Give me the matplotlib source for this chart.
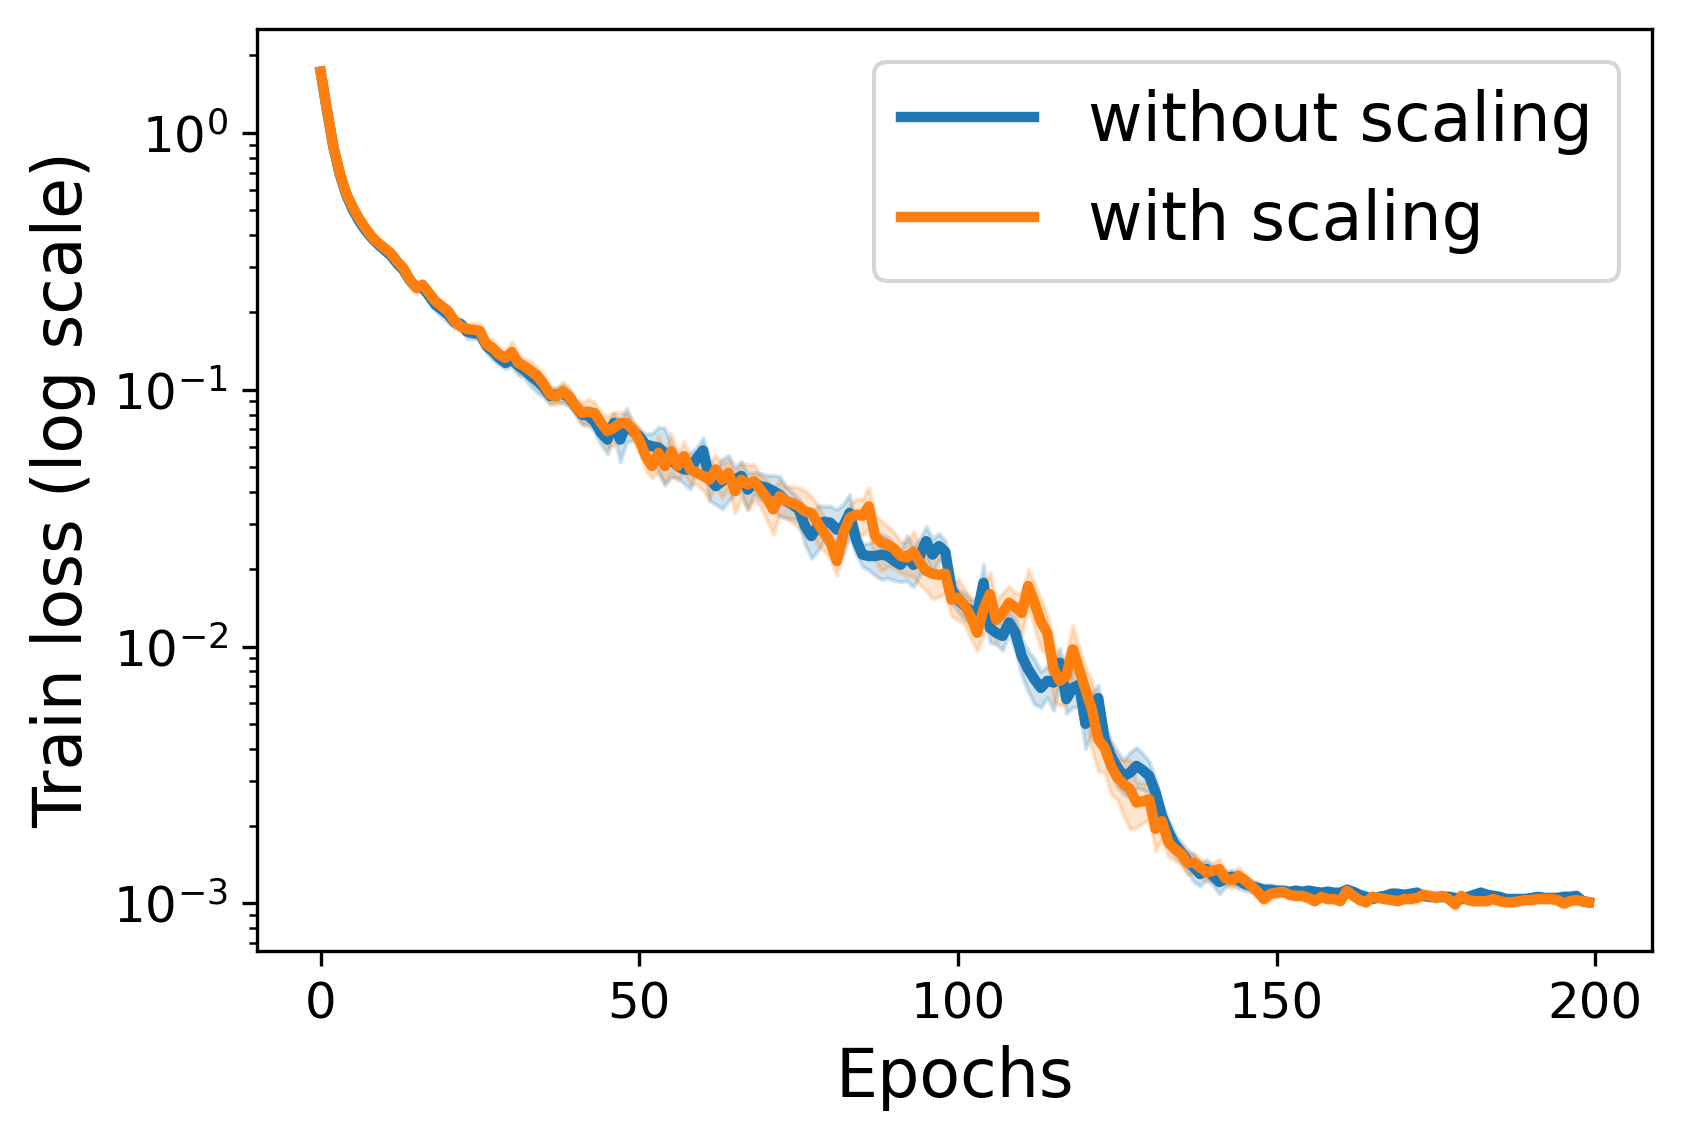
import matplotlib
matplotlib.use("Agg")
import matplotlib.pyplot as plt
from matplotlib.ticker import MultipleLocator
import numpy as np

epochs = np.arange(200)

# mean train loss
loss_without = [
    1.73, 1.22, 0.88, 0.69, 0.575, 0.505, 0.455, 0.418, 0.390, 0.368,
    0.350, 0.333, 0.310, 0.292, 0.266, 0.251, 0.250, 0.232, 0.214, 0.205,
    0.196, 0.183, 0.180, 0.168, 0.166, 0.165, 0.148, 0.141, 0.133, 0.127,
    0.131, 0.124, 0.119, 0.113, 0.108, 0.102, 0.0945, 0.0955, 0.0965, 0.093,
    0.086, 0.080, 0.079, 0.0752, 0.0678, 0.0639, 0.0742, 0.0639, 0.0735, 0.0689,
    0.0658, 0.0611, 0.0602, 0.0595, 0.0567, 0.0535, 0.0504, 0.0489, 0.0489, 0.054,
    0.058, 0.045, 0.0421, 0.0440, 0.0461, 0.0446, 0.0461, 0.0408, 0.0433, 0.0421,
    0.0415, 0.0403, 0.039, 0.0368, 0.0357, 0.0342, 0.0294, 0.0269, 0.0294, 0.0306,
    0.0303, 0.0285, 0.0294, 0.0331, 0.0261, 0.0228, 0.0225, 0.0225, 0.0228, 0.0225,
    0.0215, 0.0208, 0.0225, 0.0208, 0.0225, 0.0257, 0.0228, 0.0246, 0.0234, 0.0167,
    0.0152, 0.0144, 0.0138, 0.0134, 0.0177, 0.0118, 0.0113, 0.0110, 0.0124, 0.0113,
    0.00918, 0.00816, 0.00745, 0.00690, 0.00735, 0.00724, 0.00864, 0.00624, 0.00690, 0.00710,
    0.0050, 0.0056, 0.0063, 0.00435, 0.00375, 0.00338, 0.00313, 0.00323, 0.00343, 0.0033,
    0.00313, 0.00270, 0.00219, 0.00191, 0.00170, 0.00158, 0.00147, 0.00138, 0.00130, 0.00136,
    0.00128, 0.00121, 0.00125, 0.00127, 0.00123, 0.00119, 0.00117, 0.00115, 0.00113, 0.00113,
    0.00112, 0.00112, 0.00111, 0.00112, 0.00111, 0.00112, 0.00111, 0.00110, 0.00111, 0.00110,
    0.00110, 0.00113, 0.00111, 0.00108, 0.00106, 0.00104, 0.00106, 0.00107, 0.00109, 0.00109,
    0.00108, 0.00109, 0.00110, 0.00107, 0.00106, 0.00106, 0.00106, 0.00106, 0.00105, 0.00104,
    0.00106, 0.00108, 0.00110, 0.00108, 0.00107, 0.00106, 0.00104, 0.00104, 0.00104, 0.00104,
    0.00105, 0.00106, 0.00105, 0.00105, 0.00105, 0.00106, 0.00106, 0.00107, 0.00102, 0.00101,
]

loss_with = [
    1.73, 1.23, 0.885, 0.70, 0.583, 0.516, 0.466, 0.426, 0.395, 0.373,
    0.356, 0.340, 0.316, 0.297, 0.268, 0.249, 0.256, 0.238, 0.221, 0.211,
    0.202, 0.185, 0.176, 0.172, 0.171, 0.169, 0.150, 0.145, 0.137, 0.133,
    0.140, 0.127, 0.123, 0.118, 0.113, 0.105, 0.0957, 0.094, 0.0985, 0.094,
    0.0861, 0.0811, 0.0821, 0.081, 0.0742, 0.0689, 0.0711, 0.0742, 0.0740, 0.0699,
    0.0639, 0.0551, 0.0504, 0.0567, 0.0504, 0.0575, 0.0504, 0.0551, 0.0489, 0.0474,
    0.0461, 0.0446, 0.0489, 0.0446, 0.0474, 0.0403, 0.0446, 0.0427, 0.0440, 0.0408,
    0.0379, 0.0342, 0.0385, 0.0368, 0.0362, 0.0352, 0.0336, 0.0331, 0.0302, 0.0277,
    0.0253, 0.0215, 0.0277, 0.0317, 0.0326, 0.0323, 0.0351, 0.0269, 0.0253, 0.0249,
    0.0240, 0.0225, 0.0222, 0.0234, 0.0212, 0.0197, 0.0192, 0.0190, 0.0192, 0.0152,
    0.0155, 0.0145, 0.0131, 0.0113, 0.0139, 0.0160, 0.0127, 0.0135, 0.0148, 0.0142,
    0.0135, 0.0172, 0.0148, 0.0125, 0.0113, 0.00816, 0.00735, 0.00770, 0.00975, 0.00816,
    0.0068, 0.0057, 0.00435, 0.00404, 0.00343, 0.00309, 0.00291, 0.00278, 0.00247, 0.00250,
    0.00254, 0.00195, 0.00209, 0.00173, 0.00163, 0.00156, 0.00144, 0.00144, 0.00138, 0.00132,
    0.00134, 0.00136, 0.00125, 0.00123, 0.00128, 0.00123, 0.00117, 0.00111, 0.00104, 0.00109,
    0.00110, 0.00111, 0.00108, 0.00107, 0.00107, 0.00105, 0.00102, 0.00106, 0.00104, 0.00104,
    0.00102, 0.00112, 0.00107, 0.00103, 0.00101, 0.00106, 0.00105, 0.00104, 0.00103, 0.00102,
    0.00104, 0.00104, 0.00105, 0.00108, 0.00107, 0.00105, 0.00107, 0.00104, 0.00099, 0.00107,
    0.00103, 0.00102, 0.00102, 0.00102, 0.00104, 0.00102, 0.00101, 0.00101, 0.00102, 0.00103,
    0.00103, 0.00104, 0.00104, 0.00104, 0.00103, 0.00100, 0.00102, 0.00103, 0.00102, 0.00101,
]

# relative spread of the shaded band (std / mean)
spread_without = [
    0.01, 0.01, 0.01, 0.015, 0.015, 0.02, 0.02, 0.02, 0.025, 0.025,
    0.02, 0.03, 0.03, 0.04, 0.05, 0.04, 0.03, 0.04, 0.05, 0.06,
    0.07, 0.05, 0.04, 0.06, 0.05, 0.04, 0.05, 0.07, 0.06, 0.05,
    0.06, 0.08, 0.07, 0.09, 0.10, 0.08, 0.07, 0.06, 0.08, 0.07,
    0.06, 0.08, 0.07, 0.09, 0.10, 0.12, 0.09, 0.18, 0.15, 0.08,
    0.07, 0.10, 0.12, 0.20, 0.25, 0.15, 0.10, 0.12, 0.16, 0.10,
    0.12, 0.18, 0.15, 0.22, 0.20, 0.12, 0.14, 0.16, 0.10, 0.12,
    0.12, 0.15, 0.18, 0.14, 0.12, 0.10, 0.15, 0.18, 0.20, 0.15,
    0.16, 0.20, 0.22, 0.18, 0.12, 0.10, 0.12, 0.16, 0.20, 0.18,
    0.16, 0.14, 0.20, 0.18, 0.16, 0.14, 0.15, 0.12, 0.10, 0.12,
    0.10, 0.12, 0.10, 0.15, 0.18, 0.12, 0.10, 0.12, 0.10, 0.14,
    0.16, 0.18, 0.20, 0.16, 0.14, 0.22, 0.14, 0.12, 0.16, 0.18,
    0.20, 0.18, 0.12, 0.15, 0.14, 0.16, 0.15, 0.20, 0.18, 0.16,
    0.14, 0.12, 0.12, 0.10, 0.10, 0.09, 0.10, 0.12, 0.10, 0.09,
    0.08, 0.10, 0.07, 0.06, 0.07, 0.06, 0.05, 0.05, 0.04, 0.05,
    0.04, 0.04, 0.03, 0.04, 0.03, 0.04, 0.03, 0.03, 0.04, 0.03,
    0.03, 0.04, 0.03, 0.03, 0.04, 0.03, 0.03, 0.03, 0.04, 0.03,
    0.03, 0.03, 0.04, 0.03, 0.03, 0.03, 0.03, 0.04, 0.03, 0.03,
    0.03, 0.03, 0.04, 0.03, 0.03, 0.03, 0.03, 0.03, 0.03, 0.03,
    0.03, 0.03, 0.03, 0.03, 0.03, 0.04, 0.03, 0.03, 0.04, 0.03,
]

spread_with = [
    0.01, 0.01, 0.01, 0.01, 0.015, 0.015, 0.02, 0.02, 0.02, 0.02,
    0.02, 0.025, 0.03, 0.03, 0.04, 0.05, 0.04, 0.04, 0.05, 0.05,
    0.05, 0.06, 0.05, 0.05, 0.06, 0.07, 0.06, 0.08, 0.07, 0.06,
    0.10, 0.08, 0.07, 0.09, 0.08, 0.10, 0.08, 0.07, 0.09, 0.08,
    0.07, 0.10, 0.12, 0.10, 0.09, 0.14, 0.15, 0.10, 0.09, 0.08,
    0.10, 0.12, 0.10, 0.16, 0.14, 0.18, 0.12, 0.14, 0.12, 0.10,
    0.12, 0.16, 0.14, 0.15, 0.12, 0.18, 0.15, 0.20, 0.16, 0.14,
    0.18, 0.20, 0.15, 0.14, 0.16, 0.18, 0.20, 0.16, 0.18, 0.15,
    0.14, 0.12, 0.14, 0.12, 0.15, 0.16, 0.18, 0.20, 0.22, 0.18,
    0.16, 0.14, 0.15, 0.20, 0.18, 0.16, 0.20, 0.18, 0.16, 0.14,
    0.18, 0.16, 0.18, 0.15, 0.20, 0.22, 0.18, 0.20, 0.16, 0.14,
    0.18, 0.16, 0.20, 0.22, 0.18, 0.25, 0.20, 0.22, 0.24, 0.20,
    0.22, 0.30, 0.25, 0.20, 0.22, 0.18, 0.25, 0.30, 0.20, 0.18,
    0.16, 0.18, 0.15, 0.12, 0.10, 0.09, 0.10, 0.09, 0.08, 0.07,
    0.08, 0.09, 0.06, 0.07, 0.08, 0.06, 0.05, 0.05, 0.05, 0.05,
    0.04, 0.03, 0.04, 0.03, 0.03, 0.04, 0.03, 0.03, 0.04, 0.03,
    0.03, 0.04, 0.03, 0.03, 0.03, 0.04, 0.03, 0.03, 0.03, 0.03,
    0.03, 0.03, 0.04, 0.03, 0.03, 0.03, 0.03, 0.03, 0.04, 0.03,
    0.03, 0.03, 0.03, 0.03, 0.03, 0.03, 0.03, 0.03, 0.03, 0.03,
    0.03, 0.03, 0.03, 0.03, 0.03, 0.04, 0.03, 0.03, 0.03, 0.03,
]

series = [
    ("without scaling", loss_without, spread_without, "tab:blue"),
    ("with scaling", loss_with, spread_with, "tab:orange"),
]

fig = plt.figure(figsize=(1681 / 300, 1143 / 300), dpi=300)
ax = fig.add_axes([0.153, 0.168, 0.830, 0.807])

for label, mean, spread, color in series:
    mean = np.array(mean)
    spread = np.array(spread)
    ax.plot(epochs, mean, color=color, lw=2.5, label=label)
    ax.fill_between(epochs, mean * (1 - spread), mean * (1 + spread),
                    color=color, alpha=0.2)

ax.set_yscale("log")
ax.xaxis.set_major_locator(MultipleLocator(50))
ax.set_xlabel("Epochs", fontsize=16)
ax.set_ylabel("Train loss (log scale)", fontsize=16)
ax.tick_params(axis="both", which="major", labelsize=12)
ax.legend(fontsize=16, loc="upper right")

fig.savefig("out.png", dpi=300)
